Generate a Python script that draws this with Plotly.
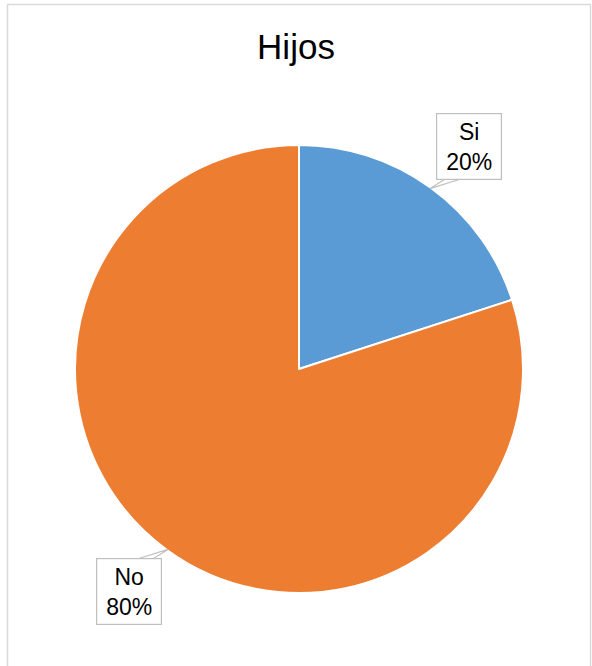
import math
import plotly.graph_objects as go

labels = ["Si", "No"]
values = [20, 80]
colors = ["#5B9BD5", "#ED7D31"]
title = "Hijos"

W, H = 592, 666
cx, cy, R = 299, 369, 223  # pie centre / radius in pixels

def px(x):
    return x / W

def py(y):
    return 1 - y / H

fig = go.Figure(go.Pie(
    labels=labels, values=values, sort=False, direction="clockwise", rotation=0,
    marker=dict(colors=colors, line=dict(color="white", width=2)),
    textinfo="none", hoverinfo="label+percent", showlegend=False,
    domain=dict(x=[px(cx - R - 1), px(cx + R + 1)], y=[py(cy + R + 1), py(cy - R - 1)]),
))

total = sum(values)
annotations = []
shapes = [dict(type="rect", xref="paper", yref="paper",
               x0=px(7.5), x1=px(590.5), y0=-0.02, y1=py(4.5),
               line=dict(color="#D9D9D9", width=1.5), fillcolor="rgba(0,0,0,0)", layer="below")]
cum = 0
for lab, v in zip(labels, values):
    mid = (cum + v / 2) / total * 2 * math.pi
    cum += v
    sx, sy = math.sin(mid), -math.cos(mid)
    ax, ay = cx + R * sx, cy + R * sy
    la = mid + math.radians(1.3)
    bx, by = cx + 1.257 * R * math.sin(la), cy - 1.257 * R * math.cos(la)
    half = 32
    edge_y = by + half if ay > by else by - half
    sgn = -1 if ax < bx else 1
    b1 = bx + sgn * 5
    b2 = bx + sgn * 22
    shapes.append(dict(type="path", xref="paper", yref="paper",
                       path=f"M {px(b1)} {py(edge_y)} L {px(ax)} {py(ay)} L {px(b2)} {py(edge_y)} Z",
                       line=dict(color="#BFBFBF", width=1.2), fillcolor="white"))
    annotations.append(dict(
        x=px(bx), y=py(by), xref="paper", yref="paper", showarrow=False,
        text=f"{lab}<br>{round(v / total * 100)}%",
        font=dict(family="Liberation Sans, Arial", size=23, color="#000000"),
        bgcolor="white", bordercolor="#BFBFBF", borderwidth=1.2,
        width=60, height=61, borderpad=2, align="center", xanchor="center", yanchor="middle"))

fig.update_layout(
    width=W, height=H, margin=dict(l=0, r=0, t=0, b=0),
    paper_bgcolor="white", plot_bgcolor="white",
    title=dict(text=title, x=0.5, xanchor="center", y=py(47), yanchor="middle",
               font=dict(family="Liberation Sans, Arial", size=35, color="#000000")),
    shapes=shapes, annotations=annotations,
)

fig.write_html("out.html", config={"displayModeBar": False},
               post_script="document.body.style.margin='0';document.body.style.overflow='hidden';")
